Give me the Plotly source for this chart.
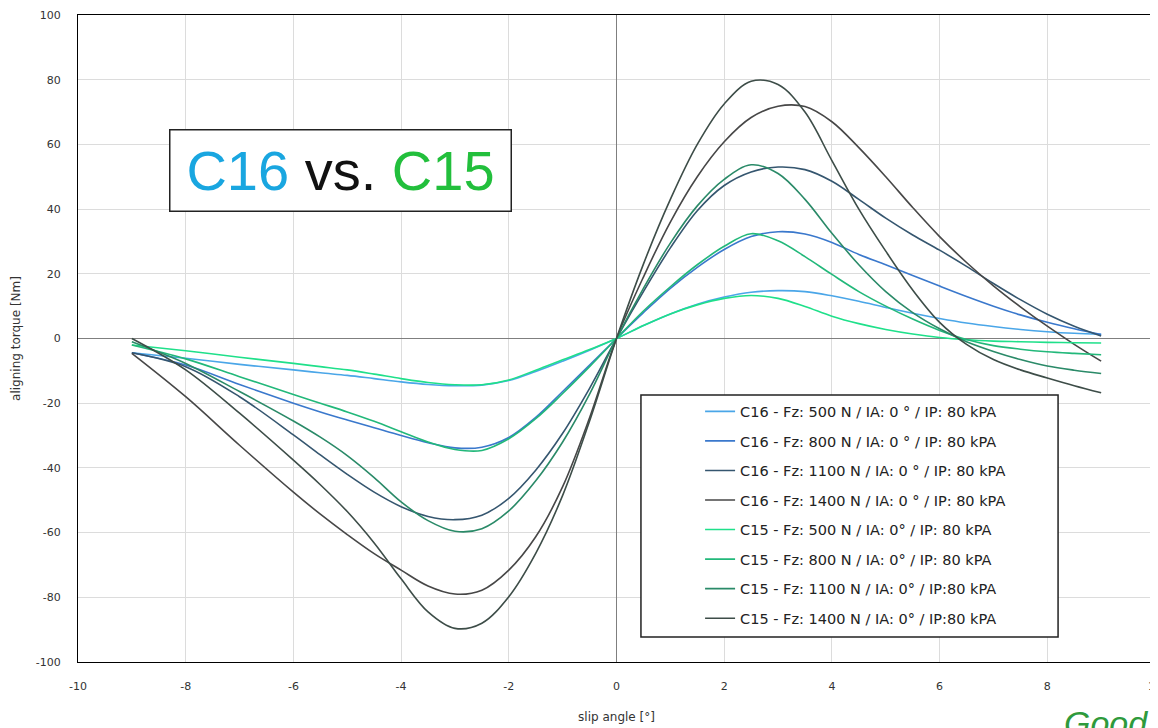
import plotly.graph_objects as go

# slip angle sample points [deg]
slip = [-9, -8, -7, -6, -5.5, -5, -4.5, -4, -3.5, -3, -2.5, -2, -1.5, -1, -0.5, 0,
        0.5, 1, 1.5, 2, 2.5, 3, 3.5, 4, 4.5, 5, 5.5, 6, 6.5, 7, 7.5, 8, 8.5, 9]

# aligning torque [Nm]
c16_500 = [-4.4, -6.1, -8.0, -9.7, -10.6, -11.4, -12.4, -13.4, -14.2, -14.6, -14.4, -13.0, -10.2, -7.0, -3.6, 0,
           4.0, 7.6, 10.6, 12.8, 14.3, 14.8, 14.5, 13.2, 11.5, 9.6, 7.8, 6.2, 4.8, 3.7, 2.8, 2.1, 1.6, 1.3]
c16_800 = [-4.4, -8.2, -14.2, -20.0, -22.7, -25.2, -27.6, -30.0, -32.2, -33.8, -33.6, -30.6, -24.4, -16.4, -8.2, 0,
           8.0, 15.5, 22.0, 27.5, 31.5, 33.0, 32.3, 29.7, 26.0, 22.8, 19.5, 16.2, 13.0, 10.0, 7.3, 5.0, 3.0, 1.2]
c16_1100 = [-4.4, -8.7, -18.0, -29.8, -36.0, -42.0, -47.5, -52.0, -55.0, -56.0, -54.6, -49.4, -40.7, -29.3, -15.4, 0,
            14.5, 28.0, 39.5, 47.3, 51.5, 53.0, 52.2, 48.6, 43.0, 37.2, 32.0, 27.3, 22.3, 17.0, 12.0, 7.5, 3.8, 0.8]
c16_1400 = [-4.6, -18.0, -33.0, -47.5, -54.3, -60.6, -66.5, -71.6, -76.5, -79.0, -77.8, -71.6, -61.3, -45.8, -24.5, 0,
            19.0, 36.0, 50.0, 60.8, 68.3, 71.8, 71.7, 67.0, 59.0, 50.0, 40.5, 31.5, 23.5, 16.3, 9.8, 3.8, -1.8, -7.0]
c15_500 = [-2.0, -3.8, -5.8, -7.7, -8.7, -9.7, -11.0, -12.4, -13.6, -14.3, -14.3, -12.8, -9.8, -6.6, -3.4, 0,
           4.0, 7.6, 10.4, 12.4, 13.3, 12.4, 9.9, 6.9, 4.6, 2.8, 1.4, 0.3, -0.4, -0.8, -1.0, -1.2, -1.3, -1.4]
c15_800 = [-2.0, -6.3, -11.8, -17.3, -20.0, -22.7, -25.6, -28.8, -32.0, -34.3, -34.6, -31.0, -24.8, -17.0, -8.7, 0,
           8.5, 16.0, 22.8, 28.5, 32.4, 30.2, 25.3, 19.8, 14.5, 10.0, 6.0, 2.5, -0.3, -2.2, -3.3, -4.1, -4.6, -5.0]
c15_1100 = [-1.0, -7.7, -16.4, -25.5, -30.5, -36.2, -43.0, -50.5, -56.3, -59.6, -58.8, -53.3, -44.0, -32.0, -17.2, 0,
            15.5, 29.5, 41.0, 49.2, 53.7, 51.0, 43.0, 32.5, 22.8, 14.5, 8.0, 3.0, -1.0, -4.0, -6.5, -8.5, -9.8, -10.8]
c15_1400 = [0.0, -9.7, -23.1, -37.6, -45.2, -53.5, -63.2, -74.3, -84.5, -89.6, -88.0, -79.8, -66.4, -48.5, -25.5, 0,
            23.0, 43.0, 60.0, 72.5, 79.5, 78.5, 70.0, 55.0, 40.0, 27.0, 15.0, 5.0, -1.8, -6.5, -9.7, -12.2, -14.6, -16.8]

series_names = [
    "C16 - Fz: 500 N / IA: 0 ° / IP: 80 kPA",
    "C16 - Fz: 800 N / IA: 0 ° / IP: 80 kPA",
    "C16 - Fz: 1100 N / IA: 0 ° / IP: 80 kPA",
    "C16 - Fz: 1400 N / IA: 0 ° / IP: 80 kPA",
    "C15 - Fz: 500 N / IA: 0° / IP: 80 kPA",
    "C15 - Fz: 800 N / IA: 0° / IP: 80 kPA",
    "C15 - Fz: 1100 N / IA: 0° / IP:80 kPA",
    "C15 - Fz: 1400 N / IA: 0° / IP:80 kPA",
]
series_values = [c16_500, c16_800, c16_1100, c16_1400, c15_500, c15_800, c15_1100, c15_1400]
series_colors = ["#4aa6e8", "#3a78cc", "#35566f", "#474747",
                 "#1fe08a", "#22b87a", "#2a8a68", "#3d4d48"]

x_ticks = [-10, -8, -6, -4, -2, 0, 2, 4, 6, 8, 10]
y_ticks = [-100, -80, -60, -40, -20, 0, 20, 40, 60, 80, 100]

fig = go.Figure()
for name, vals, col in zip(series_names, series_values, series_colors):
    fig.add_trace(go.Scatter(
        x=slip, y=vals, name=name, mode="lines", legendgroup=name,
        line=dict(color=col, width=1.6, shape="spline", smoothing=1.0),
    ))

tick_font = dict(family="DejaVu Sans, sans-serif", size=11, color="#333333")
title_font = dict(family="DejaVu Sans, sans-serif", size=12, color="#333333")

# the page body adds an 8px offset, so the figure is 8px smaller than the window
fig.update_layout(
    width=1150, height=720,
    margin=dict(l=70, r=3, t=7, b=66, autoexpand=False),
    paper_bgcolor="white", plot_bgcolor="white",
    showlegend=True,
    legend=dict(
        x=0.5776, y=0.412, xanchor="left", yanchor="top",
        bgcolor="rgba(0,0,0,0)", borderwidth=0,
        font=dict(family="DejaVu Sans, sans-serif", size=14.5, color="#222222"),
        tracegroupgap=7.7, itemwidth=30,
    ),
    xaxis=dict(
        range=[-10, 10], tickvals=x_ticks, ticktext=[str(v) for v in x_ticks],
        showgrid=True, gridcolor="#dcdcdc", gridwidth=1,
        zeroline=True, zerolinecolor="#7f7f7f", zerolinewidth=1,
        showline=True, mirror=True, linecolor="#000000", linewidth=1,
        ticks="", tickfont=tick_font, ticklabelstandoff=14, automargin=False,
        ticklabeloverflow="allow",
        title=dict(text="slip angle [°]", font=title_font, standoff=20),
    ),
    yaxis=dict(
        range=[-100, 100], tickvals=y_ticks, ticktext=[str(v) for v in y_ticks],
        showgrid=True, gridcolor="#dcdcdc", gridwidth=1,
        zeroline=True, zerolinecolor="#7f7f7f", zerolinewidth=1,
        showline=True, mirror=True, linecolor="#000000", linewidth=1,
        ticks="", tickfont=tick_font, ticklabelstandoff=14, automargin=False,
        ticklabeloverflow="allow",
        title=dict(text="aligning torque [Nm]", font=title_font, standoff=12),
    ),
    shapes=[
        dict(type="rect", xref="paper", yref="paper",
             x0=0.5227, x1=0.910, y0=0.0386, y1=0.4127,
             line=dict(color="#222222", width=1.5), fillcolor="white", layer="above"),
    ],
    annotations=[
        dict(xref="paper", yref="paper", x=0.244, y=0.760, xanchor="center", yanchor="middle",
             text='<span style="color:#19a6e0">C16</span> vs. <span style="color:#22bf3c">C15</span>',
             font=dict(family="Liberation Sans, Arial, sans-serif", size=56, color="#111111"),
             showarrow=False, bgcolor="white", bordercolor="#222222", borderwidth=1.5,
             width=336, height=76, borderpad=2),
        dict(xref="paper", yref="paper", x=0.9136, y=-0.094, xanchor="left", yanchor="middle",
             text="<i>Good</i>", showarrow=False,
             font=dict(family="Liberation Sans, Arial, sans-serif", size=34, color="#2e9a3c")),
    ],
)

fig.write_html("out.html")
